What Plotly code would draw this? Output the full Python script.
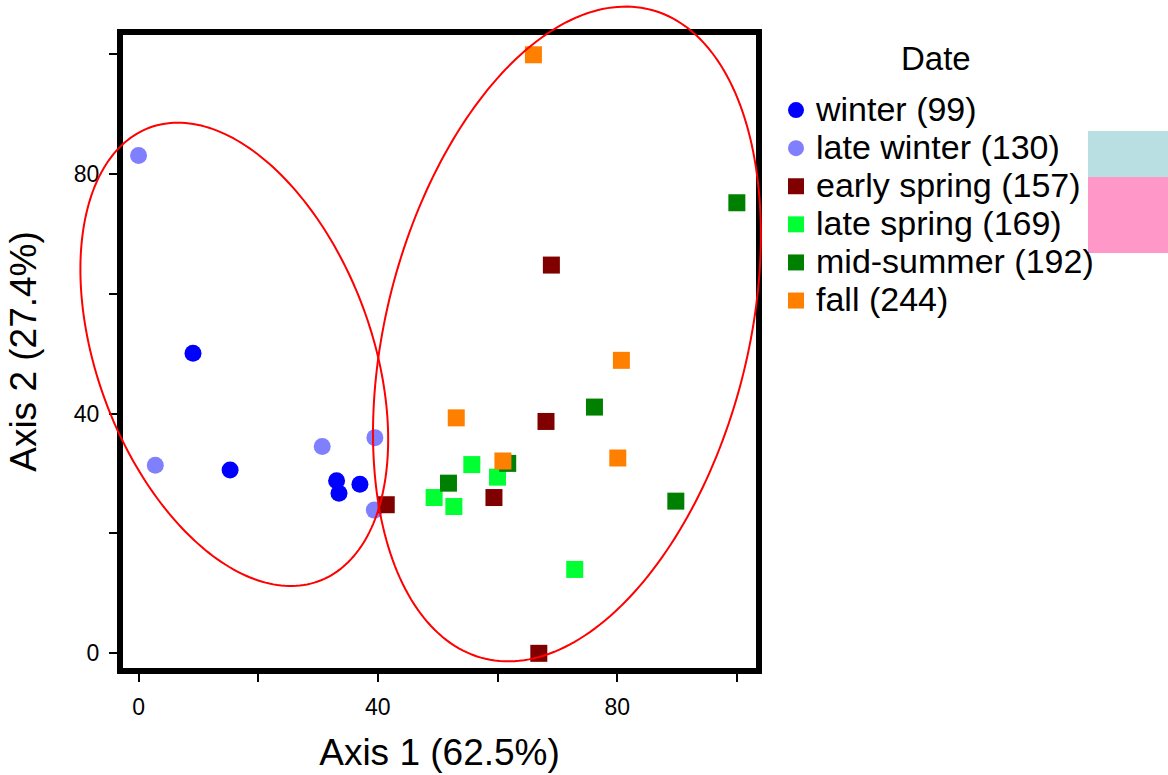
import numpy as np
import plotly.graph_objects as go

# Ordination scores (Axis 1, Axis 2) for each sampling date
season_names = ["winter (99)", "late winter (130)", "early spring (157)",
                "late spring (169)", "mid-summer (192)", "fall (244)"]
legend_title = "Date"

winter_x = [9.1, 15.3, 33.1, 33.5, 37.0]
winter_y = [50.1, 30.6, 28.8, 26.7, 28.2]

late_winter_x = [0.0, 2.8, 30.7, 39.5, 39.4]
late_winter_y = [83.1, 31.4, 34.5, 36.0, 23.9]

early_spring_x = [41.4, 69.0, 68.1, 59.4, 66.9]
early_spring_y = [24.8, 64.8, 38.7, 26.0, 0.0]

late_spring_x = [49.4, 52.7, 55.7, 60.0, 72.9]
late_spring_y = [26.0, 24.5, 31.5, 29.4, 14.0]

mid_summer_x = [100.0, 76.2, 51.8, 61.7, 89.8]
mid_summer_y = [75.2, 41.1, 28.4, 31.7, 25.4]

fall_x = [66.0, 80.7, 53.1, 60.9, 80.1]
fall_y = [99.9, 48.9, 39.3, 32.1, 32.6]

# Axis tick labels (unlabelled minor ticks in between)
tick_vals = [0, 20, 40, 60, 80, 100]
tick_text = ["0", "", "40", "", "80", ""]

# Group ellipses: centre, semi-axes and orientation (degrees)
ellipse_winter = dict(cx=16.0, cy=49.9, a=40.4, b=22.9, angle=110.6)
ellipse_summer = dict(cx=71.6, cy=53.3, a=55.9, b=30.2, angle=75.5)

# ---- styling ----
FONT = "Arial, 'Liberation Sans', sans-serif"
colors = ["#0000FF", "#8080FF", "#800000", "#00FF33", "#008000", "#FF8000"]
symbols = ["circle", "circle", "square", "square", "square", "square"]

X_RANGE = [-2.6, 103.2]
Y_RANGE = [-2.45, 103.2]
W, H = 1168, 775
M_L, M_R, M_T, M_B = 123, 412, 35, 107

series = [
    (winter_x, winter_y),
    (late_winter_x, late_winter_y),
    (early_spring_x, early_spring_y),
    (late_spring_x, late_spring_y),
    (mid_summer_x, mid_summer_y),
    (fall_x, fall_y),
]

fig = go.Figure()
for name, (xs, ys), col, sym in zip(season_names, series, colors, symbols):
    fig.add_trace(go.Scatter(
        x=xs, y=ys, mode="markers",
        name=f"<span style='font-size:34px'>{name}</span>",
        marker=dict(color=col, symbol=sym, size=17, line=dict(width=0)),
        cliponaxis=False,
    ))


def data_to_paper(x, y):
    px = (np.asarray(x) - X_RANGE[0]) / (X_RANGE[1] - X_RANGE[0])
    py = (np.asarray(y) - Y_RANGE[0]) / (Y_RANGE[1] - Y_RANGE[0])
    return px, py


def pixel_to_paper(px, py):
    pw = W - M_L - M_R
    ph = H - M_T - M_B
    return (px - M_L) / pw, (H - M_B - py) / ph


def ellipse_path(e, n=240):
    t = np.linspace(0, 2 * np.pi, n)
    th = np.deg2rad(e["angle"])
    ex = e["cx"] + e["a"] * np.cos(t) * np.cos(th) - e["b"] * np.sin(t) * np.sin(th)
    ey = e["cy"] + e["a"] * np.cos(t) * np.sin(th) + e["b"] * np.sin(t) * np.cos(th)
    px, py = data_to_paper(ex, ey)
    pts = [f"{u:.5f},{v:.5f}" for u, v in zip(px, py)]
    return "M " + " L ".join(pts) + " Z"


shapes = []
for e in (ellipse_winter, ellipse_summer):
    shapes.append(dict(type="path", xref="paper", yref="paper",
                       path=ellipse_path(e), line=dict(color="#FF0000", width=2),
                       layer="above"))

# colour blocks at the right edge
bx0, by0 = pixel_to_paper(1088, 131)
bx1, by1 = pixel_to_paper(1170, 177)
shapes.append(dict(type="rect", xref="paper", yref="paper", x0=bx0, x1=bx1,
                   y0=by1, y1=by0, fillcolor="#B9DFE2", line=dict(width=0)))
px0, py0 = pixel_to_paper(1088, 177)
px1, py1 = pixel_to_paper(1170, 253)
shapes.append(dict(type="rect", xref="paper", yref="paper", x0=px0, x1=px1,
                   y0=py1, y1=py0, fillcolor="#FF98C8", line=dict(width=0)))

axis_common = dict(
    showgrid=False, zeroline=False,
    showline=True, linewidth=6, linecolor="black", mirror=True,
    ticks="outside", ticklen=8, tickwidth=2, tickcolor="black",
    tickvals=tick_vals, ticktext=tick_text, ticklabelstandoff=5,
    tickfont=dict(family=FONT, size=23, color="black"),
)

leg_x, leg_y = pixel_to_paper(776, 86)
title_x, title_y = pixel_to_paper(936, 59)

fig.update_layout(
    width=W, height=H,
    margin=dict(l=M_L, r=M_R, t=M_T, b=M_B, autoexpand=False),
    paper_bgcolor="white", plot_bgcolor="white",
    font=dict(family=FONT, color="black"),
    xaxis=dict(range=X_RANGE, title=dict(text="Axis 1 (62.5%)", standoff=23,
                                         font=dict(family=FONT, size=37, color="black")),
               **axis_common),
    yaxis=dict(range=Y_RANGE, title=dict(text="Axis 2 (27.4%)", standoff=28,
                                         font=dict(family=FONT, size=37, color="black")),
               **axis_common),
    legend=dict(
        x=leg_x, y=leg_y, xanchor="left", yanchor="top",
        font=dict(family=FONT, size=27, color="black"),
        itemsizing="trace", bgcolor="rgba(0,0,0,0)",
    ),
    annotations=[dict(text=legend_title, xref="paper", yref="paper",
                      x=title_x, y=title_y, xanchor="center", yanchor="middle",
                      showarrow=False, font=dict(family=FONT, size=33, color="black"))],
    shapes=shapes,
)

fig.write_html("out.html")
